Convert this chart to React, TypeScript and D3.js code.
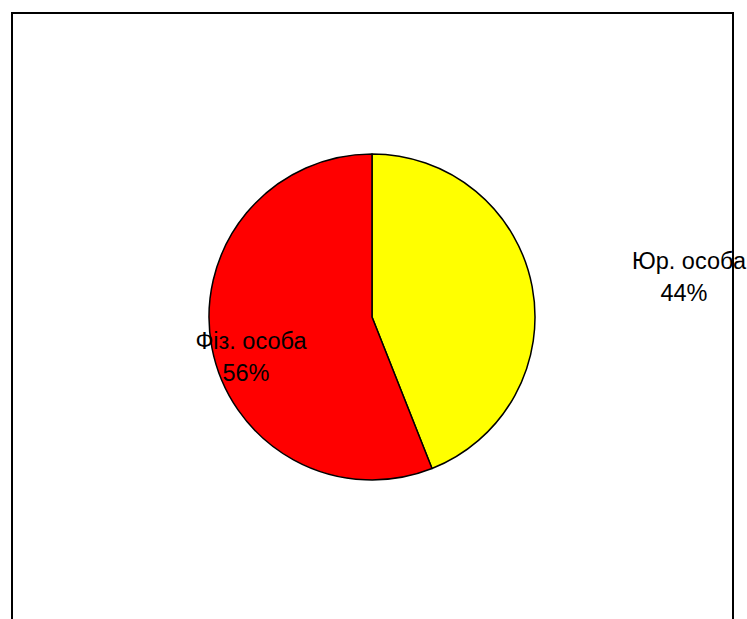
import React from "react";
import * as d3 from "d3";

const categories = ["Юр. особа", "Фіз. особа"];
const shares = [44, 56];
const colors = ["#ffff00", "#ff0000"];

const W = 747;
const H = 619;
const cx = 372;
const cy = 317;
const R = 163;

// label anchor points (centre of the two-line label)
const labelPos: [number, number][] = [
  [689, 277],
  [251, 357],
];

export default function App() {
  const pie = d3
    .pie<number>()
    .sort(null)
    .value((d) => d);
  const arcs = pie(shares);
  const arc = d3.arc<d3.PieArcDatum<number>>().innerRadius(0).outerRadius(R);

  return (
    <svg
      width={W}
      height={H}
      style={{ position: "absolute", left: 0, top: 0 }}
      fontFamily="'Liberation Sans', Arial, sans-serif"
    >
      <rect x={0} y={0} width={W} height={H} fill="#fff" />
      <g transform={`translate(${cx},${cy})`}>
        {arcs.map((a, i) => (
          <path
            key={categories[i]}
            d={arc(a) || ""}
            fill={colors[i]}
            stroke="#000"
            strokeWidth={1.5}
            strokeLinejoin="round"
          />
        ))}
      </g>
      {arcs.map((a, i) => (
        <text
          key={"l" + i}
          x={labelPos[i][0]}
          y={labelPos[i][1]}
          textAnchor="middle"
          fontSize={23.5}
          fill="#000"
        >
          <tspan x={labelPos[i][0]} dy={-8}>
            {categories[i]}
          </tspan>
          <tspan x={labelPos[i][0] - 5} dy={32}>
            {`${a.data}%`}
          </tspan>
        </text>
      ))}
      <rect
        x={12}
        y={13}
        width={721}
        height={H + 20}
        fill="none"
        stroke="#000"
        strokeWidth={2}
      />
    </svg>
  );
}
